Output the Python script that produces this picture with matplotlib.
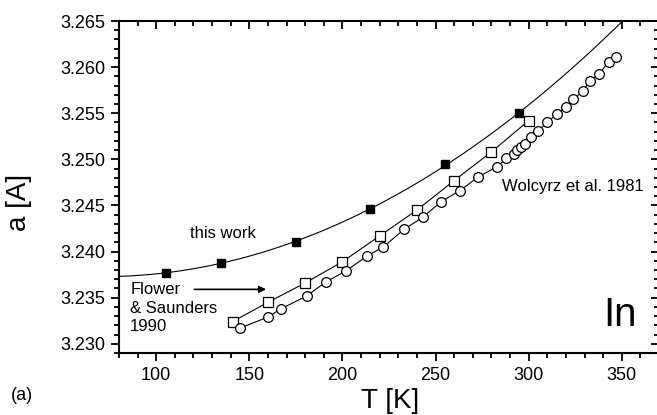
import numpy as np
import matplotlib
matplotlib.use('Agg')
import matplotlib.pyplot as plt
from matplotlib.ticker import MultipleLocator, FormatStrFormatter

plt.rcParams['font.family'] = ['Liberation Sans', 'DejaVu Sans']

# this work (filled squares) + quadratic fit
T_work = [105, 135, 175, 215, 255, 295]
a_work = [3.2377, 3.2388, 3.2410, 3.2446, 3.2495, 3.2550]

# Flower & Saunders 1990 (open squares)
T_flower = [141, 160, 180, 200, 220, 240, 260, 280, 300]
a_flower = [3.2324, 3.2345, 3.2366, 3.2389, 3.2417, 3.2445, 3.2477, 3.2508, 3.2542]

# Wolcyrz et al. 1981 (open circles)
T_wol = [145, 160, 167, 181, 191, 202, 213, 222, 233, 243, 253, 263, 273, 283, 288,
         292, 294, 296, 298, 301, 305, 310, 315, 320, 324, 329, 333, 338, 343, 347]
a_wol = [3.2317, 3.2329, 3.2338, 3.2352, 3.2367, 3.2379, 3.2395, 3.2405, 3.2424, 3.2437,
         3.2454, 3.2466, 3.2481, 3.2492, 3.2501, 3.2506, 3.2510, 3.2513, 3.2517, 3.2524,
         3.2531, 3.2540, 3.2549, 3.2557, 3.2565, 3.2574, 3.2585, 3.2593, 3.2606, 3.2611]

fig = plt.figure(figsize=(6.57, 4.15), dpi=100)
ax = fig.add_axes([119 / 657, 62 / 415, 540 / 657, 332 / 415])

# fit line through this-work points
coef = np.polyfit(T_work, a_work, 2)
T_fit = np.linspace(80, 350, 200)
ax.plot(T_fit, np.polyval(coef, T_fit), color='black', lw=0.8)
ax.plot(T_work, a_work, 's', color='black', ms=6)

ax.plot(T_flower, a_flower, '-s', color='black', lw=0.8, ms=7.5,
        mfc='white', mec='black', mew=0.9)
ax.plot(T_wol, a_wol, '-o', color='black', lw=0.8, ms=7,
        mfc='white', mec='black', mew=0.9)

ax.set_xlim(80, 370)
ax.set_ylim(3.229, 3.265)
ax.xaxis.set_major_locator(MultipleLocator(50))
ax.xaxis.set_minor_locator(MultipleLocator(10))
ax.yaxis.set_major_locator(MultipleLocator(0.005))
ax.yaxis.set_minor_locator(MultipleLocator(0.001))
ax.yaxis.set_major_formatter(FormatStrFormatter('%.3f'))

ax.tick_params(which='both', top=True, right=True, labelsize=13, width=1.3)
ax.tick_params(axis='x', which='both', direction='out', pad=4)
ax.tick_params(axis='y', which='both', direction='out', pad=4)
ax.tick_params(which='major', length=6)
ax.tick_params(which='minor', length=3.5)
for side in ['left', 'right', 'top', 'bottom']:
    ax.spines[side].set_linewidth(1.5)
# top/right ticks point inward
for t in ax.xaxis.get_major_ticks() + ax.xaxis.get_minor_ticks():
    t.tick2line.set_marker(matplotlib.lines.TICKDOWN)
for t in ax.yaxis.get_major_ticks() + ax.yaxis.get_minor_ticks():
    t.tick2line.set_marker(matplotlib.lines.TICKLEFT)

ax.set_xlabel('T [K]', fontsize=20)
ax.set_ylabel('a [A]', fontsize=20)
ax.xaxis.set_label_coords(0.502, -0.105)
ax.yaxis.set_label_coords(-0.161, 0.455)

ax.text(135.6, 3.2420, 'this work', fontsize=12, ha='center', va='center')
ax.text(86, 3.2367, 'Flower\n& Saunders\n1990', fontsize=12, ha='left', va='top',
        linespacing=1.3)
ax.annotate('', xy=(159, 3.2359), xytext=(120.5, 3.2359),
            arrowprops=dict(arrowstyle='-|>', color='black', lw=1.2,
                            mutation_scale=10, shrinkA=0, shrinkB=0))
ax.text(285.7, 3.2471, 'Wolcyrz et al. 1981', fontsize=12, ha='left', va='center')
ax.text(349, 3.2331, 'In', fontsize=29, ha='center', va='center')

fig.text(22 / 657, 1 - 395 / 415, '(a)', fontsize=13, ha='center', va='center')

fig.savefig('out.png', dpi=100)
